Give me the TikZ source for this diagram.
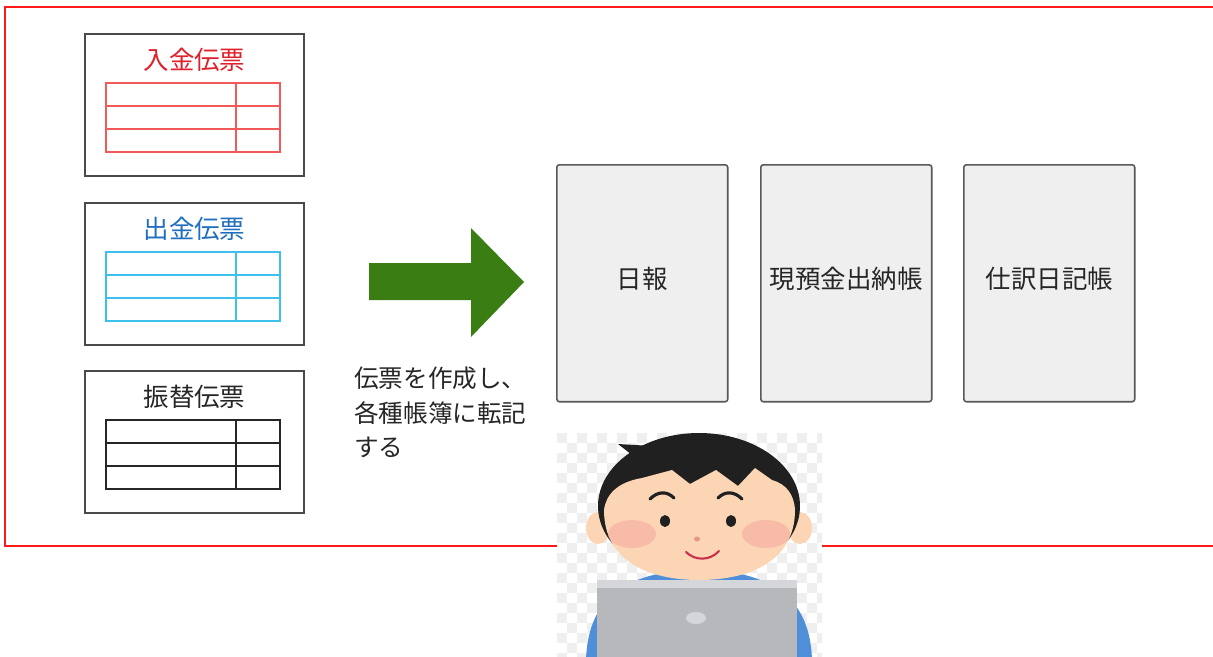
\documentclass[tikz,border=0pt]{standalone}
\usepackage{fontspec}
\setmainfont{Noto Sans CJK JP}
\usetikzlibrary{positioning}

\definecolor{framered}{HTML}{FF1A1A}
\definecolor{inred}{HTML}{E0202A}
\definecolor{redline}{HTML}{F25A5A}
\definecolor{inblue}{HTML}{1F6EC0}
\definecolor{cyanline}{HTML}{3CC0EE}
\definecolor{ink}{HTML}{262626}
\definecolor{slipline}{HTML}{4A4A4A}
\definecolor{ledgerline}{HTML}{585858}
\definecolor{ledgerfill}{HTML}{EFEFEF}
\definecolor{arrowgreen}{HTML}{3A7D13}
\definecolor{skin}{HTML}{FCD6B4}
\definecolor{hair}{HTML}{202020}
\definecolor{shirt}{HTML}{4F8ED8}
\definecolor{blush}{HTML}{F5A19E}
\definecolor{mouth}{HTML}{C8304E}
\definecolor{pcbody}{HTML}{B6B8BB}
\definecolor{pcrim}{HTML}{D4D6D9}
\definecolor{checker}{HTML}{EFEFEF}

\tikzset{
  slipbox/.style={draw=slipline, line width=1pt, minimum width=4.38cm,
    minimum height=2.84cm, anchor=north west, inner sep=0pt, outer sep=0pt},
  sliptitle/.style={font=\fontsize{14.5pt}{17pt}\selectfont, inner sep=0pt},
  ledgerbox/.style={draw=ledgerline, fill=ledgerfill, line width=0.9pt,
    rounded corners=1.5pt, minimum width=3.42cm, minimum height=4.74cm,
    anchor=north west, inner sep=0pt},
  booktitle/.style={inner sep=0pt, text=ink,
    font=\fontsize{14.5pt}{17pt}\selectfont},
  memo/.style={align=left, inner sep=0pt, text=ink,
    font=\fontsize{14pt}{19.5pt}\selectfont},
}

\begin{document}
\begin{tikzpicture}[x=0.02cm, y=-0.02cm]
\useasboundingbox (0,0) rectangle (1213,656);
\clip (0,0) rectangle (1213,656);
\fill[white] (0,0) rectangle (1213,656);

% red frame, runs off the right edge
\draw[framered, line width=1.1pt] (5,7) rectangle (1230,546);

% the three slips
\foreach \n/\top/\tc/\lc/\txt in {nyukin/34/inred/redline/入金伝票,
    shukkin/203/inblue/cyanline/出金伝票, furikae/371/ink/ink/振替伝票}{
  \node[slipbox] (\n) at (85,\top) {};
  \node[sliptitle, text=\tc] (\n-title) at ([yshift=-0.52cm]\n.north) {\txt};
  \draw[\lc, line width=0.7pt] ([shift={(21,49)}]\n.north west) rectangle ++(174,69);
  \foreach \r in {72,95}
    \draw[\lc, line width=0.7pt] ([shift={(21,\r)}]\n.north west) -- ++(174,0);
  \draw[\lc, line width=0.7pt] ([shift={(151,49)}]\n.north west) -- ++(0,69);
}

% big arrow
\fill[arrowgreen] (369,263) -- (471,263) -- (471,228) -- (524,282)
  -- (471,337) -- (471,300) -- (369,300) -- cycle;

\node[memo, anchor=north west] (memo) at (354,367) {伝票を作成し、\\各種帳簿に転記\\する};

% books
\foreach \n/\x/\txt in {nippo/556/日報, genyokin/760/現預金出納帳, shiwake/963/仕訳日記帳}{
  \node[ledgerbox] (\n) at (\x,164) {};
  \node[booktitle] (\n-title) at ([yshift=0.09cm]\n.center) {\txt};
}

% person at the laptop
\begin{scope}
  \clip (557,433) rectangle (822,656);
  \fill[white] (557,433) rectangle (822,656);
  \foreach \i in {0,...,13}
    \foreach \j in {0,...,11}{
      \fill[checker] (557+20*\i,433+20*\j) rectangle ++(10,10);
      \fill[checker] (567+20*\i,443+20*\j) rectangle ++(10,10);
    }
  % shirt
  \fill[shirt] (586,660) .. controls (588,602) and (620,572) .. (699,569)
    .. controls (778,572) and (810,602) .. (812,660) -- cycle;
  % ears
  \fill[skin] (598,528) ellipse[x radius=12, y radius=16];
  \fill[skin] (800,528) ellipse[x radius=12, y radius=16];
  % hair
  \fill[hair] (699,506) ellipse[x radius=101, y radius=73];
  \fill[hair] (636,458) -- (618,444) -- (652,446) -- cycle;
  % face with bangs
  \fill[skin] (604,510) .. controls (604,562) and (650,580) .. (699,580)
    .. controls (748,580) and (795,562) .. (795,510)
    .. controls (794,494) and (786,484) .. (772,480) -- (755,468) -- (738,486)
    -- (716,470) -- (690,484) -- (672,470) -- (642,478)
    .. controls (618,482) and (606,494) .. (604,510) -- cycle;
  % cheeks
  \fill[blush, opacity=0.5] (632,534) ellipse[x radius=24, y radius=14];
  \fill[blush, opacity=0.5] (766,534) ellipse[x radius=24, y radius=14];
  % brows, eyes, nose, mouth
  \draw[hair, line width=1.8pt, line cap=round] (650,499) .. controls (658,491) and (667,491) .. (674,498);
  \draw[hair, line width=1.8pt, line cap=round] (718,498) .. controls (725,491) and (734,491) .. (742,499);
  \fill[hair] (665,521) ellipse[x radius=5, y radius=6];
  \fill[hair] (731,521) ellipse[x radius=5, y radius=6];
  \fill[mouth!40!skin] (697,539) ellipse[x radius=3, y radius=2.5];
  \draw[mouth, line width=1.2pt, line cap=round] (686,552) .. controls (695,561) and (710,561) .. (719,551);
  % laptop
  \fill[pcbody] (597,580) rectangle (797,660);
  \fill[pcrim] (597,580) rectangle (797,588);
  \fill[pcrim] (696,618) ellipse[x radius=10, y radius=6];
\end{scope}
\end{tikzpicture}
\end{document}
